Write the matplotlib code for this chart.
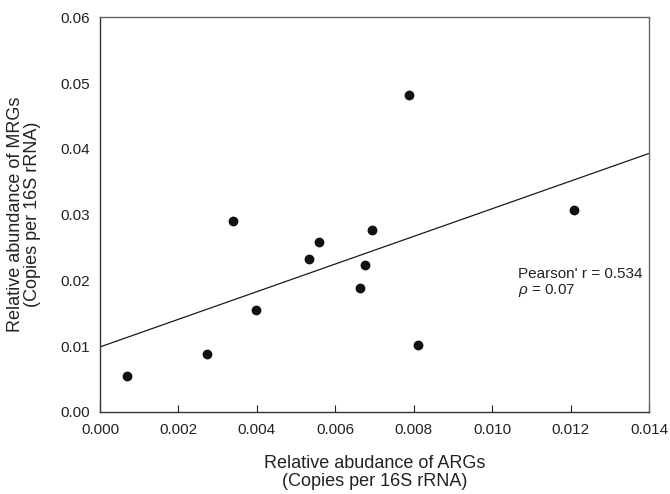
import numpy as np
import matplotlib
matplotlib.use('Agg')
import matplotlib.pyplot as plt

plt.rcParams['font.family'] = ['Liberation Sans', 'DejaVu Sans']
plt.rcParams['mathtext.fontset'] = 'custom'
plt.rcParams['mathtext.it'] = 'Liberation Sans:italic'
plt.rcParams['mathtext.rm'] = 'Liberation Sans'

# relative abundance of ARGs (x) and MRGs (y)
args_abund = [0.0007, 0.00273, 0.00340, 0.00398, 0.00533, 0.00558,
              0.00664, 0.00675, 0.00693, 0.00787, 0.00811, 0.01209]
mrgs_abund = [0.00553, 0.00877, 0.02896, 0.01557, 0.02328, 0.02591,
              0.01886, 0.02241, 0.02769, 0.04823, 0.01014, 0.03063]

x_ticks = [0.000, 0.002, 0.004, 0.006, 0.008, 0.010, 0.012, 0.014]
y_ticks = [0.00, 0.01, 0.02, 0.03, 0.04, 0.05, 0.06]

x = np.array(args_abund)
y = np.array(mrgs_abund)
slope, intercept = np.polyfit(x, y, 1)

fig = plt.figure(figsize=(6.7, 4.94), dpi=100)
ax = fig.add_axes([0.1493, 0.166, 0.8194, 0.799])

xx = np.array([0.0, 0.014])
ax.plot(xx, intercept + slope * xx, color='#1a1a1a', lw=0.9, zorder=2)
ax.scatter(x, y, s=50, color='#111111', zorder=3, linewidths=0)

ax.text(0.01066, 0.0210, "Pearson' r = 0.534", fontsize=11, va='center', color='#222222')
ax.text(0.01066, 0.0184, r"$\it{\rho}$ = 0.07", fontsize=11, va='center', color='#222222')

ax.set_xlim(0, 0.014)
ax.set_ylim(0, 0.06)
ax.set_xticks(x_ticks)
ax.set_xticklabels(['%.3f' % t for t in x_ticks])
ax.set_yticks(y_ticks)
ax.set_yticklabels(['%.2f' % t for t in y_ticks])
ax.tick_params(axis='x', direction='in', length=5, width=0.8, labelsize=11, pad=8, colors='#222222')
ax.tick_params(axis='y', length=0, labelsize=11, pad=7, colors='#222222')

for s in ax.spines.values():
    s.set_linewidth(1.0)
    s.set_color('#333333')
ax.spines['top'].set_color('#666666')
ax.spines['right'].set_color('#666666')

ax.set_xlabel('Relative abudance of ARGs\n(Copies per 16S rRNA)', fontsize=13,
              labelpad=13, color='#222222', linespacing=1.05)
ax.set_ylabel('Relative abundance of MRGs\n(Copies per 16S rRNA)', fontsize=13,
              labelpad=14, color='#222222', linespacing=1.0)

fig.savefig('out.png', dpi=100)
